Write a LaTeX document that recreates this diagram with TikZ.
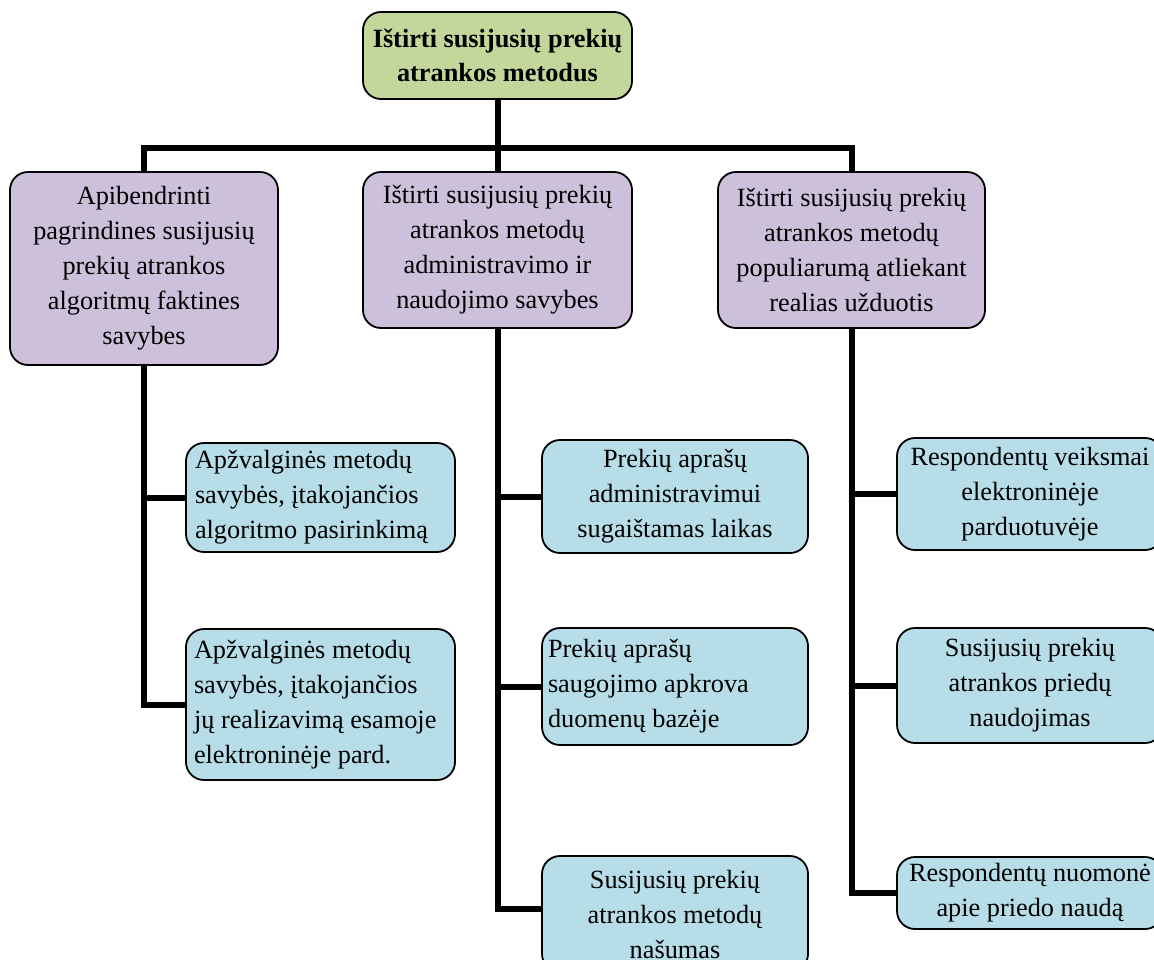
\documentclass[tikz,border=0pt]{standalone}
\usepackage{fontspec}
\setmainfont{Liberation Serif}
\definecolor{goalgreen}{HTML}{C4D79B}
\definecolor{taskpurple}{HTML}{CCC0DA}
\definecolor{subteal}{HTML}{B7DEE8}
\tikzset{
  box/.style={draw=black, line width=1.8pt, rounded corners=18pt, inner sep=0pt,
    align=center, font=\fontsize{26.3}{35}\selectfont},
  goalbox/.style={box, fill=goalgreen, font=\bfseries\fontsize{26.3}{34}\selectfont},
  taskbox/.style={box, fill=taskpurple},
  subbox/.style={box, fill=subteal},
  subleft/.style={subbox, align=flush left, text width=#1},
  conn/.style={line width=6pt}
}
\begin{document}
\begin{tikzpicture}[x=1pt,y=-1pt]
\useasboundingbox (0,0) rectangle (1154,959);

% root goal
\node[goalbox, minimum width=269, minimum height=87] (top) at (497.5,55.5)
  {Ištirti susijusių prekių\\atrankos metodus};

% first-level tasks
\node[taskbox, minimum width=268, minimum height=193] (L1a) at (144,268.5)
  {Apibendrinti\\pagrindines susijusių\\prekių atrankos\\algoritmų faktines\\savybes};
\node[taskbox, minimum width=269, minimum height=156] (L1b) at (497.5,250)
  {Ištirti susijusių prekių\\atrankos metodų\\administravimo ir\\naudojimo savybes};
\node[taskbox, minimum width=267, minimum height=156] (L1c) at (851.5,250)
  {Ištirti susijusių prekių\\atrankos metodų\\populiarumą atliekant\\realias užduotis};

% subtasks, left column
\node[subleft=251, inner xsep=9pt, minimum width=269, minimum height=109] (C1) at (320.5,497.5)
  {Apžvalginės metodų\\savybės, įtakojančios\\algoritmo pasirinkimą};
\node[subleft=253, inner xsep=8pt, minimum width=269, minimum height=151] (C2) at (320.5,704.5)
  {Apžvalginės metodų\\savybės, įtakojančios\\jų realizavimą esamoje\\elektroninėje pard.};

% subtasks, middle column
\node[subbox, minimum width=266, minimum height=113] (M1) at (675,496.5)
  {Prekių aprašų\\administravimui\\sugaištamas laikas};
\node[subleft=254, inner xsep=6pt, minimum width=266, minimum height=117] (M2) at (675,686.5)
  {Prekių aprašų\\saugojimo apkrova\\duomenų bazėje};
\node[subbox, minimum width=266, minimum height=116] (M3) at (675,914)
  {Susijusių prekių\\atrankos metodų\\našumas};

% subtasks, right column
\node[subbox, minimum width=266, minimum height=112] (R1) at (1030,494)
  {Respondentų veiksmai\\elektroninėje\\parduotuvėje};
\node[subbox, minimum width=266, minimum height=115] (R2) at (1030,685.5)
  {Susijusių prekių\\atrankos priedų\\naudojimas};
\node[subbox, minimum width=266, minimum height=72] (R3) at (1030,893)
  {Respondentų nuomonė\\apie priedo naudą};

% connectors
\coordinate (bus) at (497.5,148);
\draw[conn] (top.south) -- (L1b.north);
\draw[conn] (L1a.north) |- (bus) -| (L1c.north);

\draw[conn] (L1a.south) |- (C2.west);
\draw[conn] (L1a.south |- C1.west) -- (C1.west);

\draw[conn] (L1b.south) |- ([yshift=5pt]M3.west);
\draw[conn] (L1b.south |- M1.west) -- (M1.west);
\draw[conn] (L1b.south |- M2.west) -- (M2.west);

\draw[conn] (L1c.south) |- (R3.west);
\draw[conn] (L1c.south |- R1.west) -- (R1.west);
\draw[conn] (L1c.south |- R2.west) -- (R2.west);
\end{tikzpicture}
\end{document}
